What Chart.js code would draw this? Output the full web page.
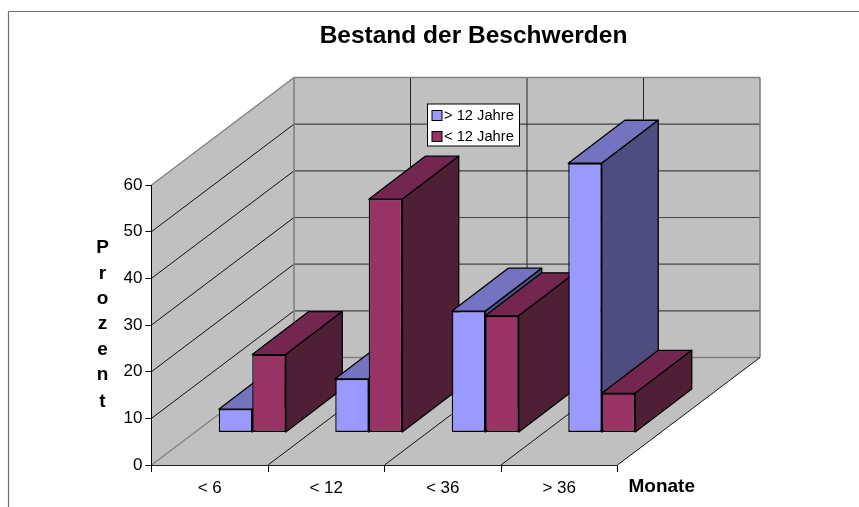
<!DOCTYPE html>
<html>
<head>
<meta charset="utf-8">
<style>html,body{margin:0;padding:0;background:#fff}canvas{display:block}</style>
<script src="https://cdn.jsdelivr.net/npm/chart.js@4/dist/chart.umd.min.js"></script>
</head>
<body>
<canvas id="c" width="859" height="507"></canvas>
<script>
const categories = ['< 6', '< 12', '< 36', '> 36'];
const over12 = [5, 11.5, 26, 57.7];
const under12 = [16.7, 50, 25, 8.4];
const over12Label = '> 12 Jahre';
const under12Label = '< 12 Jahre';
const yTicksMax = 60;
const yStep = 10;
const chartTitle = 'Bestand der Beschwerden';
const yTitle = ['P', 'r', 'o', 'z', 'e', 'n', 't'];
const xTitle = 'Monate';

const FONT = '"Liberation Sans", Arial, sans-serif';
const BLUE = ['#9999ff', '#7373bf', '#4d4d80'];
const RED = ['#993366', '#732650', '#4f2035'];
const WALL = '#c0c0c0';
const EDGE = '#808080';
const DEPTH = { x: 142.5, y: -107.5 };
const BAR_DEPTH = { x: 56.5, y: -43 };
const BAR_SHIFT = { x: 42.5, y: -32.5 };

function poly(ctx, pts, fill, stroke, lw) {
  ctx.beginPath();
  pts.forEach((p, i) => i ? ctx.lineTo(p[0], p[1]) : ctx.moveTo(p[0], p[1]));
  ctx.closePath();
  if (fill) { ctx.fillStyle = fill; ctx.fill(); }
  if (stroke) { ctx.strokeStyle = stroke; ctx.lineWidth = lw || 1; ctx.stroke(); }
}
function line(ctx, x1, y1, x2, y2, color, lw) {
  ctx.beginPath(); ctx.moveTo(x1, y1); ctx.lineTo(x2, y2);
  ctx.strokeStyle = color; ctx.lineWidth = lw || 1; ctx.stroke();
}

const scene3d = {
  id: 'scene3d',
  beforeDraw(chart) {
    const ctx = chart.ctx, { left, right, top, bottom } = chart.chartArea;
    const dx = DEPTH.x, dy = DEPTH.y;
    ctx.save();
    // page frame
    line(ctx, 8.5, 11.5, 859, 11.5, '#6e6e6e', 1.2);
    line(ctx, 8.5, 11.5, 8.5, 507, '#6e6e6e', 1.2);
    // side wall, back wall, floor
    poly(ctx, [[left, bottom], [left + dx, bottom + dy], [left + dx, top + dy], [left, top]], WALL);
    poly(ctx, [[left + dx, bottom + dy], [right + dx, bottom + dy], [right + dx, top + dy], [left + dx, top + dy]], WALL);
    poly(ctx, [[left, bottom], [right, bottom], [right + dx, bottom + dy], [left + dx, bottom + dy]], WALL);
    // value grid
    const ys = chart.scales.y;
    ys.ticks.forEach(t => {
      const y = ys.getPixelForValue(t.value);
      if (t.value !== 0 && t.value !== yTicksMax) {
        line(ctx, left, y, left + dx, y + dy, '#111', 1);
        line(ctx, left + dx, y + dy, right + dx, y + dy, '#444', 1.2);
      }
    });
    // category grid
    const n = categories.length, cw = (right - left) / n;
    for (let i = 1; i < n; i++) {
      const x = left + i * cw;
      line(ctx, x, bottom, x + dx, bottom + dy, '#111', 1);
      line(ctx, x + dx, bottom + dy, x + dx, top + dy, '#222', 1);
    }
    // wall outlines
    line(ctx, left, top, left + dx, top + dy, EDGE, 1.3);
    line(ctx, left + dx, top + dy, right + dx, top + dy, EDGE, 1.3);
    line(ctx, left + dx, top + dy, left + dx, bottom + dy, EDGE, 1.6);
    line(ctx, right + dx, top + dy, right + dx, bottom + dy, EDGE, 1.6);
    line(ctx, left + dx, bottom + dy, right + dx, bottom + dy, EDGE, 1.3);
    line(ctx, left, bottom, left + dx, bottom + dy, EDGE, 1.3);
    line(ctx, right, bottom, right + dx, bottom + dy, '#111', 1);
    ctx.restore();
    // centre the title over the whole plot
    const tb = chart.titleBlock;
    tb.left = 0; tb.right = 947;
  },
  beforeDatasetsDraw(chart) {
    const ctx = chart.ctx;
    ctx.save();
    ctx.translate(BAR_SHIFT.x, BAR_SHIFT.y);
    categories.forEach((_, i) => {
      chart.data.datasets.forEach((ds, d) => {
        const el = chart.getDatasetMeta(d).data[i];
        const p = el.getProps(['x', 'y', 'base', 'width'], true);
        const l = p.x - p.width / 2, r = p.x + p.width / 2, t = p.y, b = p.base;
        const c = d === 0 ? BLUE : RED, bx = BAR_DEPTH.x, by = BAR_DEPTH.y;
        ctx.lineJoin = 'round';
        poly(ctx, [[l, t], [r, t], [r + bx, t + by], [l + bx, t + by]], c[1], '#000', 1.3);
        poly(ctx, [[r, t], [r + bx, t + by], [r + bx, b + by], [r, b]], c[2], '#000', 1.3);
        el.draw(ctx);
      });
    });
    ctx.restore();
    return false;
  },
  afterDraw(chart) {
    const ctx = chart.ctx;
    ctx.save();
    ctx.fillStyle = '#000';
    ctx.textBaseline = 'middle';
    // stacked y title
    ctx.textAlign = 'center';
    ctx.font = 'bold 19px ' + FONT;
    const yPos = [248, 274, 299, 324, 350, 375, 402];
    yTitle.forEach((ch, i) => ctx.fillText(ch, 102.5, yPos[i]));
    // x title
    ctx.textAlign = 'left';
    ctx.font = 'bold 19px ' + FONT;
    ctx.fillText(xTitle, 628.5, 486.5);
    // legend
    ctx.fillStyle = '#fff';
    ctx.fillRect(427.5, 104, 92, 42);
    ctx.strokeStyle = '#000'; ctx.lineWidth = 1;
    ctx.strokeRect(427.5, 104, 92, 42);
    [[over12Label, BLUE[0], 110.5], [under12Label, RED[0], 131.5]].forEach(([txt, col, y]) => {
      ctx.fillStyle = col;
      ctx.fillRect(432, y, 10, 10);
      ctx.strokeStyle = '#000';
      ctx.strokeRect(432, y, 10, 10);
      ctx.fillStyle = '#000';
      ctx.font = '14.7px ' + FONT;
      ctx.fillText(txt, 444, y + 5);
    });
    ctx.restore();
  }
};

new Chart(document.getElementById('c'), {
  type: 'bar',
  data: {
    labels: categories,
    datasets: [
      { label: over12Label, data: over12, backgroundColor: BLUE[0], borderColor: '#000', borderWidth: 1.4, borderSkipped: false },
      { label: under12Label, data: under12, backgroundColor: RED[0], borderColor: '#000', borderWidth: 1.4, borderSkipped: false }
    ]
  },
  options: {
    responsive: false,
    animation: false,
    devicePixelRatio: 1,
    layout: { padding: { left: 0, top: 0, right: 241.5, bottom: 0 } },
    datasets: { bar: { categoryPercentage: 0.575, barPercentage: 1 } },
    plugins: {
      legend: { display: false },
      tooltip: { enabled: false },
      title: {
        display: true,
        text: chartTitle,
        color: '#000',
        font: { family: FONT, size: 24.5, weight: 'bold', lineHeight: 1.2 },
        padding: { top: 22, bottom: 133.6 }
      }
    },
    scales: {
      x: {
        type: 'category',
        offset: true,
        grid: { offset: true, drawOnChartArea: false, drawTicks: true, tickLength: 7, color: '#000', tickColor: '#000' },
        border: { color: '#222', width: 1 },
        ticks: { color: '#000', font: { family: FONT, size: 17 }, padding: 6, maxRotation: 0 },
        afterFit(s) { s.height = 42; }
      },
      y: {
        min: 0, max: yTicksMax,
        grid: { drawOnChartArea: false, drawTicks: true, tickLength: 6, color: '#000', tickColor: '#000' },
        border: { color: '#000', width: 1 },
        ticks: { stepSize: yStep, color: '#000', font: { family: FONT, size: 17 }, padding: 3 },
        afterFit(s) { s.width = 151.5; }
      }
    }
  },
  plugins: [scene3d]
});
</script>
</body>
</html>
